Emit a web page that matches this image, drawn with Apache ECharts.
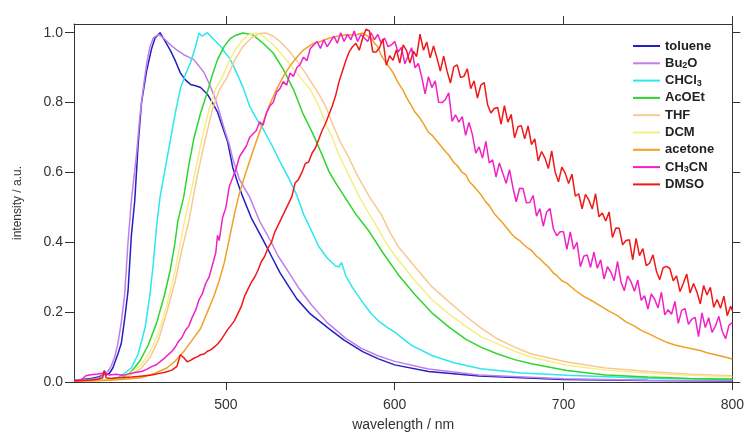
<!DOCTYPE html>
<html>
<head>
<meta charset="utf-8">
<script src="https://cdn.jsdelivr.net/npm/echarts@6/dist/echarts.min.js"></script>
<style>
html,body{margin:0;padding:0;background:#ffffff;}
#chart{width:747px;height:437px;}
</style>
</head>
<body>
<div id="chart"></div>
<script>
const xTicks = [500, 600, 700, 800];
const yTicks = [0, 0.2, 0.4, 0.6, 0.8, 1.0];
const names = ['toluene', 'Bu2O', 'CHCl3', 'AcOEt', 'THF', 'DCM', 'acetone', 'CH3CN', 'DMSO'];

const toluene = [[410,0.005],[420,0.01],[425,0.015],[427,0.02],[428,0.032],[429,0.02],[431,0.025],[433,0.04],[436,0.08],[438,0.11],[440,0.18],[442,0.26],[444,0.42],[446,0.52],[448,0.68],[450,0.8],[453,0.89],[456,0.955],[458,0.985],[461,1.0],[464,0.975],[467,0.95],[470,0.92],[473,0.885],[476,0.865],[479,0.852],[482,0.848],[485,0.843],[489,0.824],[492,0.8],[495,0.773],[498,0.73],[501,0.688],[504,0.615],[507,0.57],[510,0.53],[515,0.47],[522,0.407],[527,0.36],[532,0.313],[537,0.275],[542,0.238],[550,0.195],[561,0.153],[570,0.12],[581,0.087],[590,0.067],[600,0.049],[620,0.03],[650,0.017],[700,0.007],[750,0.004],[800,0.003]];

const bu2o = [[410,0.005],[420,0.008],[425,0.012],[430,0.03],[432,0.045],[434,0.07],[436,0.11],[438,0.17],[440,0.25],[442,0.4],[444,0.52],[447,0.65],[449,0.76],[451,0.84],[453,0.91],[455,0.96],[457,0.985],[460,0.995],[463,0.985],[467,0.966],[471,0.95],[475,0.937],[478,0.93],[481,0.923],[484,0.905],[487,0.886],[490,0.855],[493,0.82],[496,0.775],[499,0.725],[502,0.68],[504,0.64],[508,0.58],[514,0.53],[520,0.46],[526,0.408],[531,0.36],[536,0.323],[543,0.27],[551,0.219],[560,0.17],[571,0.125],[580,0.097],[590,0.075],[600,0.059],[620,0.037],[650,0.02],[700,0.009],[750,0.005],[800,0.004]];

const chcl3 = [[410,0.003],[430,0.007],[436,0.013],[440,0.025],[444,0.04],[448,0.08],[452,0.153],[455,0.25],[457,0.34],[459,0.45],[461,0.53],[464,0.61],[467,0.69],[470,0.77],[473,0.84],[476,0.88],[479,0.914],[482,0.96],[484,0.999],[486,0.99],[487,0.985],[489,1.0],[491,0.99],[493,0.98],[497,0.96],[500,0.94],[502,0.928],[505,0.9],[510,0.845],[514,0.79],[518,0.755],[522,0.725],[527,0.68],[532,0.631],[537,0.585],[542,0.535],[546,0.48],[550,0.44],[555,0.388],[560,0.355],[565,0.332],[567,0.33],[568.5,0.342],[571,0.304],[575,0.27],[581,0.228],[586,0.196],[591,0.172],[596,0.155],[600,0.143],[610,0.105],[622,0.076],[635,0.055],[651,0.038],[675,0.026],[702,0.019],[750,0.011],[800,0.008]];

const acoet = [[410,0.002],[430,0.006],[440,0.015],[444,0.03],[449,0.06],[454,0.106],[459,0.17],[463.5,0.247],[467,0.32],[469.5,0.388],[471.5,0.46],[475,0.53],[478,0.62],[481,0.697],[485,0.77],[489,0.83],[492,0.88],[495,0.923],[499,0.961],[502.5,0.983],[506,0.993],[510,0.999],[516,0.994],[522,0.97],[528,0.942],[534,0.895],[540,0.838],[545.5,0.77],[551,0.716],[557,0.65],[561,0.603],[565,0.57],[569,0.54],[573,0.51],[577,0.48],[581,0.455],[585,0.43],[593,0.37],[602,0.308],[612,0.25],[622,0.198],[632,0.158],[642,0.123],[651,0.1],[661,0.08],[671,0.064],[681,0.052],[702,0.033],[725,0.02],[750,0.014],[775,0.01],[800,0.008]];

const thf = [[410,0.002],[430,0.005],[440,0.01],[450,0.04],[455,0.07],[460,0.12],[465,0.2],[470,0.29],[474,0.38],[478,0.46],[483,0.59],[488,0.7],[492,0.78],[496,0.835],[501,0.875],[505,0.92],[510,0.96],[515,0.985],[520,0.998],[524,0.999],[528,0.99],[532,0.975],[537,0.95],[542,0.92],[547,0.885],[551,0.855],[555,0.825],[559,0.79],[563,0.74],[568,0.685],[572,0.65],[578,0.59],[585,0.53],[592,0.48],[597,0.43],[602,0.388],[612,0.33],[622,0.273],[632,0.23],[642,0.189],[651,0.155],[661,0.123],[671,0.1],[681,0.08],[702,0.057],[725,0.04],[750,0.03],[775,0.022],[800,0.018]];

const dcm = [[410,0.002],[430,0.006],[440,0.012],[450,0.05],[455,0.085],[460,0.14],[465,0.22],[470,0.32],[475,0.45],[480,0.56],[486,0.7],[490,0.78],[494,0.84],[498,0.875],[502,0.92],[506,0.955],[510,0.98],[514,0.995],[518,0.999],[522,0.99],[527,0.97],[532,0.945],[537,0.915],[542,0.885],[546,0.86],[550,0.838],[555,0.79],[559,0.74],[563,0.7],[567,0.65],[572,0.6],[579,0.53],[585,0.48],[590,0.44],[596,0.39],[602,0.35],[612,0.29],[622,0.236],[632,0.195],[642,0.16],[651,0.13],[661,0.109],[671,0.088],[681,0.071],[702,0.048],[725,0.034],[750,0.025],[775,0.019],[800,0.015]];

const acetone = [[410,0.002],[430,0.005],[440,0.008],[450,0.012],[458,0.025],[465,0.04],[470,0.06],[475,0.087],[480,0.12],[485,0.153],[489,0.2],[493,0.247],[496,0.29],[499,0.341],[502,0.41],[505,0.48],[508,0.54],[512,0.603],[517,0.675],[522,0.744],[526,0.795],[530,0.838],[534,0.875],[538,0.905],[542,0.93],[546,0.951],[552,0.97],[556,0.975],[561,0.984],[566,0.99],[571,0.994],[576,0.993],[581,0.999],[584,0.99],[586,0.985],[588,0.97],[590,0.96],[592,0.935],[594,0.92],[597,0.9],[599,0.886],[602,0.857],[605,0.835],[607,0.815],[610,0.79],[612,0.773],[615,0.755],[617,0.74],[620,0.715],[622,0.707],[625,0.69],[627,0.678],[630,0.66],[632,0.65],[635,0.628],[637,0.62],[640,0.6],[642,0.594],[644,0.575],[646,0.565],[649,0.548],[651,0.537],[654,0.515],[656,0.505],[659,0.482],[661,0.471],[664,0.455],[666,0.443],[669,0.425],[671,0.415],[674,0.405],[676,0.395],[679,0.383],[681,0.377],[684,0.36],[686,0.353],[689,0.338],[691,0.33],[694,0.312],[696,0.305],[699,0.29],[702,0.283],[707,0.262],[712,0.245],[717,0.232],[722,0.217],[727,0.203],[732,0.19],[737,0.172],[742,0.16],[746,0.148],[751,0.137],[756,0.125],[761,0.114],[766,0.106],[771,0.1],[776,0.095],[781,0.09],[785,0.084],[790,0.078],[795,0.072],[800,0.066]];

const ch3cn = [[410,0.004],[414,0.005],[417,0.018],[420,0.021],[424,0.023],[428,0.026],[431,0.02],[435,0.022],[439,0.019],[443,0.024],[447,0.028],[450,0.03],[453,0.036],[456,0.044],[459,0.05],[462,0.062],[464,0.07],[466,0.079],[468,0.088],[470,0.1],[472,0.117],[474,0.128],[476,0.148],[478,0.16],[480,0.185],[482,0.205],[484,0.235],[486,0.252],[488,0.282],[490,0.3],[492,0.335],[494,0.37],[495,0.42],[496,0.405],[498,0.47],[500,0.5],[502,0.56],[504,0.585],[506,0.61],[508,0.645],[510,0.66],[512,0.675],[514,0.7],[516,0.71],[518,0.72],[520,0.745],[522,0.735],[524,0.77],[526,0.79],[528,0.8],[530,0.83],[532,0.84],[534,0.86],[536,0.85],[538,0.885],[540,0.875],[542,0.9],[544,0.91],[546,0.93],[548,0.92],[550,0.955],[552,0.965],[554,0.975],[556,0.955],[558,0.98],[560,0.96],[562,0.975],[564,0.99],[566,0.97],[568,1.0],[570,0.975],[572,0.995],[574,0.98],[576,1.005],[578,0.975],[580,0.995],[582,0.985],[584,0.975],[586,1.0],[588,0.98],[590,0.995],[592,0.97],[594,0.985],[596,0.96],[598,0.965],
[600,0.975],[602,0.945],[604,0.958],[606,0.911],[608,0.934],[610,0.957],[612,0.9],[614,0.912],[616,0.873],[618,0.825],[620,0.874],[622,0.843],[624,0.862],[626,0.801],[628,0.8],[630,0.809],[632,0.828],[634,0.746],[636,0.765],[638,0.744],[640,0.76],[642,0.706],[644,0.743],[646,0.709],[648,0.655],[650,0.673],[652,0.641],[654,0.689],[656,0.627],[658,0.636],[660,0.587],[662,0.627],[664,0.598],[666,0.569],[668,0.608],[670,0.557],[672,0.516],[674,0.555],[676,0.554],[678,0.513],[680,0.514],[682,0.534],[684,0.475],[686,0.496],[688,0.446],[690,0.487],[692,0.497],[694,0.438],[696,0.419],[698,0.43],[700,0.43],[702,0.38],[704,0.43],[706,0.38],[708,0.4],[710,0.33],[712,0.36],[714,0.364],[716,0.328],[718,0.372],[720,0.326],[722,0.35],[724,0.295],[726,0.33],[728,0.315],[730,0.29],[732,0.345],[734,0.288],[736,0.261],[738,0.304],[740,0.287],[742,0.26],[744,0.292],[746,0.234],[748,0.247],[750,0.209],[752,0.252],[754,0.237],[756,0.212],[758,0.257],[760,0.192],[762,0.207],[764,0.194],[766,0.231],[768,0.168],[770,0.205],[772,0.21],[774,0.165],[776,0.18],[778,0.185],[780,0.13],[782,0.198],[784,0.156],[786,0.184],[788,0.142],[790,0.16],[792,0.188],[794,0.146],[796,0.124],[798,0.162],[800,0.17]];

const dmso = [[410,0.003],[415,0.004],[420,0.006],[424,0.008],[427,0.012],[428,0.032],[429,0.012],[432,0.01],[436,0.012],[440,0.013],[444,0.014],[448,0.016],[452,0.018],[456,0.02],[460,0.024],[464,0.028],[468,0.034],[471,0.045],[473,0.078],[475,0.07],[477,0.058],[479,0.062],[481,0.068],[483,0.072],[485,0.078],[487,0.08],[489,0.088],[491,0.092],[493,0.1],[495,0.108],[497,0.12],[499,0.135],[501,0.15],[503,0.162],[505,0.175],[507,0.195],[509,0.215],[511,0.245],[513,0.265],[515,0.285],[517,0.3],[519,0.32],[521,0.345],[523,0.36],[525,0.385],[527,0.4],[529,0.43],[531,0.45],[533,0.47],[535,0.49],[537,0.51],[539,0.53],[541,0.57],[543,0.58],[545,0.6],[547,0.625],[549,0.63],[551,0.655],[553,0.67],[555,0.695],[557,0.72],[559,0.74],[561,0.765],[563,0.79],[565,0.82],[567,0.86],[569,0.89],[571,0.92],[573,0.945],[575,0.96],[577,0.97],[579,0.95],[581,0.985],[583,1.01],
[585,1.005],[587,0.945],[589,0.945],[591,0.957],[593,0.982],[595,0.907],[597,0.934],[599,0.921],[601,0.951],[603,0.913],[605,0.965],[607,0.949],[609,0.913],[611,0.947],[613,0.932],[615,0.996],[617,0.95],[619,0.973],[621,0.928],[623,0.962],[625,0.928],[627,0.89],[629,0.933],[631,0.89],[633,0.856],[635,0.902],[637,0.908],[639,0.872],[641,0.875],[643,0.897],[645,0.84],[647,0.862],[649,0.813],[651,0.85],[653,0.857],[655,0.794],[657,0.77],[659,0.783],[661,0.786],[663,0.738],[665,0.791],[667,0.744],[669,0.766],[671,0.699],[673,0.731],[675,0.734],[677,0.696],[679,0.733],[681,0.68],[683,0.696],[685,0.633],[687,0.66],[689,0.641],[691,0.611],[693,0.662],[695,0.602],[697,0.573],[699,0.615],[701,0.598],[703,0.568],[705,0.595],[707,0.532],[709,0.539],[711,0.496],[713,0.537],[715,0.521],[717,0.495],[719,0.539],[721,0.473],[723,0.484],[725,0.461],[727,0.487],[729,0.414],[731,0.441],[733,0.44],[735,0.393],[737,0.405],[739,0.407],[741,0.35],[743,0.411],[745,0.362],[747,0.382],[749,0.333],[751,0.34],[753,0.364],[755,0.318],[757,0.293],[759,0.327],[761,0.331],[763,0.325],[765,0.29],[767,0.304],[769,0.259],[771,0.283],[773,0.309],[775,0.255],[777,0.282],[779,0.258],[781,0.224],[783,0.276],[785,0.249],[787,0.271],[789,0.214],[791,0.236],[793,0.211],[795,0.246],[797,0.19],[799,0.217],[800,0.205]];

const seriesData = [toluene, bu2o, chcl3, acoet, thf, dcm, acetone, ch3cn, dmso];
const colors = ['#2020c4', '#c07ee8', '#2ce6f0', '#2cd62c', '#f8c892', '#f6ee84', '#f0a024', '#f022c6', '#f01818'];
const legendLabels = {
  'toluene': 'toluene',
  'Bu2O': 'Bu{s|2}O',
  'CHCl3': 'CHCl{s|3}',
  'AcOEt': 'AcOEt',
  'THF': 'THF',
  'DCM': 'DCM',
  'acetone': 'acetone',
  'CH3CN': 'CH{s|3}CN',
  'DMSO': 'DMSO'
};

const FONT = '"Liberation Sans", Arial, Helvetica, sans-serif';
const AX = '#333333';

const chart = echarts.init(document.getElementById('chart'), null, {renderer: 'canvas'});

const series = names.map((n, i) => ({
  name: n,
  type: 'line',
  data: seriesData[i],
  xAxisIndex: 0,
  yAxisIndex: 0,
  symbol: 'none',
  showSymbol: false,
  color: colors[i],
  lineStyle: {width: 1.5, color: colors[i]},
  clip: true,
  z: 2 + i
}));

chart.setOption({
  animation: false,
  backgroundColor: '#ffffff',
  grid: {left: 74, right: 11, top: 24, bottom: 49, containLabel: false},
  legend: {
    data: names,
    orient: 'vertical',
    left: 633,
    top: 39,
    padding: 0,
    icon: 'rect',
    itemWidth: 27,
    itemHeight: 2,
    itemGap: 3.3,
    formatter: (name) => legendLabels[name],
    textStyle: {
      fontFamily: FONT,
      fontSize: 13,
      fontWeight: 'bold',
      color: '#222',
      lineHeight: 14,
      rich: {
        s: {fontFamily: FONT, fontSize: 9, fontWeight: 'bold', color: '#222', lineHeight: 5, verticalAlign: 'bottom'}
      }
    }
  },
  xAxis: [
    {
      type: 'value', min: 410, max: 800, position: 'bottom',
      name: 'wavelength / nm', nameLocation: 'middle', nameGap: 36,
      nameTextStyle: {fontFamily: FONT, fontSize: 14, color: AX},
      axisLine: {show: true, onZero: false, lineStyle: {color: AX, width: 1}},
      axisTick: {show: true, inside: false, length: 8, customValues: xTicks, lineStyle: {color: AX, width: 1}},
      axisLabel: {show: true, customValues: xTicks, fontFamily: FONT, fontSize: 14, color: AX, margin: 16},
      splitLine: {show: false}
    },
    {
      type: 'value', min: 410, max: 800, position: 'top',
      axisLine: {show: true, onZero: false, lineStyle: {color: AX, width: 1}},
      axisTick: {show: true, inside: false, length: 8, customValues: xTicks, lineStyle: {color: AX, width: 1}},
      axisLabel: {show: false},
      splitLine: {show: false}
    }
  ],
  yAxis: [
    {
      type: 'value', min: 0, max: 1.025, position: 'left',
      name: 'intensity / a.u.', nameLocation: 'middle', nameGap: 50, nameRotate: 90,
      nameTextStyle: {fontFamily: FONT, fontSize: 12, color: AX},
      axisLine: {show: true, onZero: false, lineStyle: {color: AX, width: 1}},
      axisTick: {show: true, inside: false, length: 9, customValues: yTicks, lineStyle: {color: AX, width: 1}},
      axisLabel: {show: true, customValues: yTicks, formatter: (v) => Number(v).toFixed(1), fontFamily: FONT, fontSize: 14, color: AX, margin: 11},
      splitLine: {show: false}
    },
    {
      type: 'value', min: 0, max: 1.025, position: 'right',
      axisLine: {show: true, onZero: false, lineStyle: {color: AX, width: 1}},
      axisTick: {show: true, inside: false, length: 8, customValues: yTicks, lineStyle: {color: AX, width: 1}},
      axisLabel: {show: false},
      splitLine: {show: false}
    }
  ],
  series: series
});
</script>
</body>
</html>
